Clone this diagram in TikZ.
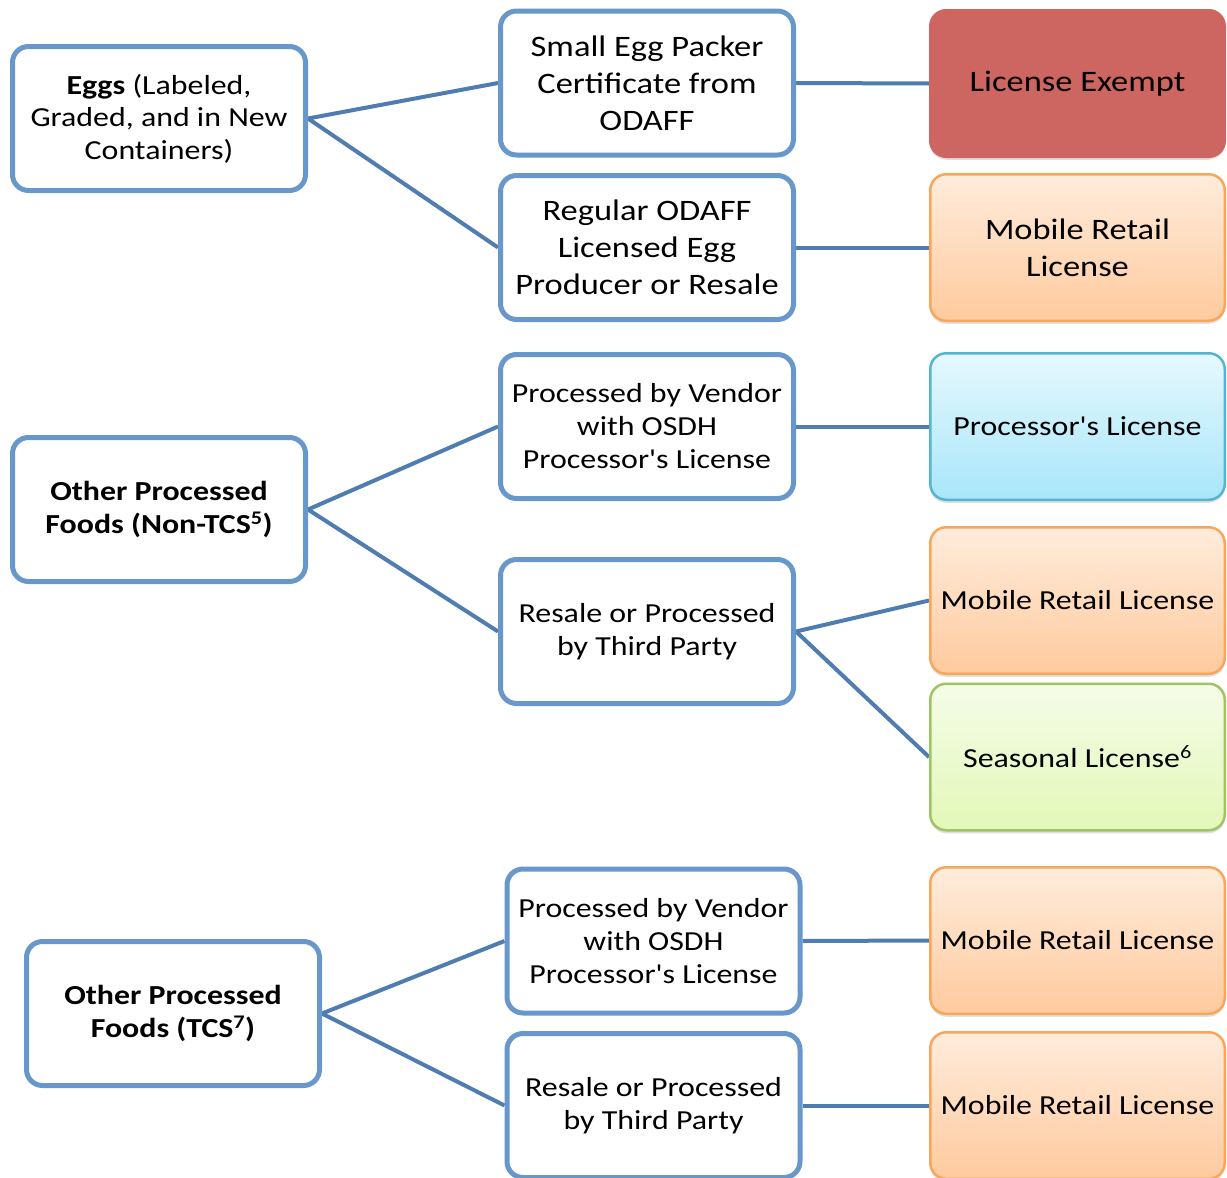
\documentclass[tikz,border=0pt]{standalone}
\usepackage{fontspec}
\setmainfont{Carlito}[FakeStretch=1.16, Ligatures=TeXOff]
\usetikzlibrary{shadows,backgrounds}
\definecolor{boxblue}{RGB}{104,151,203}
\definecolor{linkblue}{RGB}{79,125,178}
\definecolor{redfill}{RGB}{205,102,96}
\definecolor{orTop}{RGB}{255,236,220}
\definecolor{orBot}{RGB}{255,202,158}
\definecolor{orLine}{RGB}{249,166,90}
\definecolor{blTop}{RGB}{230,248,254}
\definecolor{blBot}{RGB}{168,230,250}
\definecolor{blLine}{RGB}{85,180,210}
\definecolor{grTop}{RGB}{245,252,232}
\definecolor{grBot}{RGB}{226,248,184}
\definecolor{grLine}{RGB}{160,195,100}
\newcommand{\fsz}[2]{\fontsize{#1}{#2}\selectfont}
\tikzset{
  whitebox/.style={draw=boxblue, line width=5pt, rounded corners=16pt, fill=white,
    minimum width=293pt, minimum height=144pt, align=center, inner sep=0pt},
  smalltext/.style={font={\fsz{27.5}{33}}},
  bigtext/.style={font={\fsz{29.7}{37}}},
  lefttext/.style={font={\fsz{27.5}{32.5}}},
  licbox/.style={line width=2.5pt, rounded corners=16pt, minimum width=294.5pt,
    minimum height=146.5pt, align=center, inner sep=0pt,
    drop shadow={opacity=0.25, shadow xshift=0pt, shadow yshift=-3pt}},
  redbox/.style={licbox, draw=redfill, fill=redfill},
  orbox/.style={licbox, draw=orLine, top color=orTop, bottom color=orBot},
  blbox/.style={licbox, draw=blLine, top color=blTop, bottom color=blBot},
  grbox/.style={licbox, draw=grLine, top color=grTop, bottom color=grBot},
  link/.style={draw=linkblue, line width=4pt}
}
\begin{document}
\begin{tikzpicture}[x=1pt,y=-1pt]
\useasboundingbox (0,0) rectangle (1227,1178);
% left column
\node[whitebox, lefttext] (eggs) at (159,118.5) {\textbf{Eggs} (Labeled,\\Graded, and in New\\Containers)};
\node[whitebox, lefttext] (ntcs) at (159,509.5) {\textbf{Other Processed}\\\textbf{Foods (Non-TCS\textsuperscript{5})}};
\node[whitebox, lefttext] (tcs) at (173,1013.5) {\textbf{Other Processed}\\\textbf{Foods (TCS\textsuperscript{7})}};
% middle column
\node[whitebox, bigtext] (sep) at (647,83) {Small Egg Packer\\Certificate from\\ODAFF};
\node[whitebox, bigtext] (reg) at (647,247.5) {Regular ODAFF\\Licensed Egg\\Producer or Resale};
\node[whitebox, smalltext] (pva) at (647,426.5) {Processed by Vendor\\with OSDH\\Processor's License};
\node[whitebox, smalltext] (rsa) at (647,631.5) {Resale or Processed\\by Third Party};
\node[whitebox, smalltext] (pvb) at (653.5,941) {Processed by Vendor\\with OSDH\\Processor's License};
\node[whitebox, smalltext] (rsb) at (653.5,1105.5) {Resale or Processed\\by Third Party};
% right column
\node[redbox, bigtext] (le) at (1077.5,83.5) {License Exempt};
\node[orbox, bigtext] (mra) at (1077.5,247.5) {Mobile Retail\\License};
\node[blbox, smalltext] (pl) at (1077.5,426.5) {Processor's License};
\node[orbox, smalltext] (mrb) at (1077.5,600.5) {Mobile Retail License};
\node[grbox, smalltext] (sl) at (1077.5,757) {Seasonal License\textsuperscript{6}};
\node[orbox, smalltext] (mrc) at (1077.5,940.5) {Mobile Retail License};
\node[orbox, smalltext] (mrd) at (1077.5,1105.5) {Mobile Retail License};
% connectors
\begin{scope}[on background layer]
\draw[link] (eggs.east) -- (sep.west);
\draw[link] (eggs.east) -- (reg.west);
\draw[link] (sep.east) -- (le.west);
\draw[link] (reg.east) -- (mra.west);
\draw[link] (ntcs.east) -- (pva.west);
\draw[link] (ntcs.east) -- (rsa.west);
\draw[link] (pva.east) -- (pl.west);
\draw[link] (rsa.east) -- (mrb.west);
\draw[link] (rsa.east) -- (sl.west);
\draw[link] (tcs.east) -- (pvb.west);
\draw[link] (tcs.east) -- (rsb.west);
\draw[link] (pvb.east) -- (mrc.west);
\draw[link] (rsb.east) -- (mrd.west);
\end{scope}
\end{tikzpicture}
\end{document}
